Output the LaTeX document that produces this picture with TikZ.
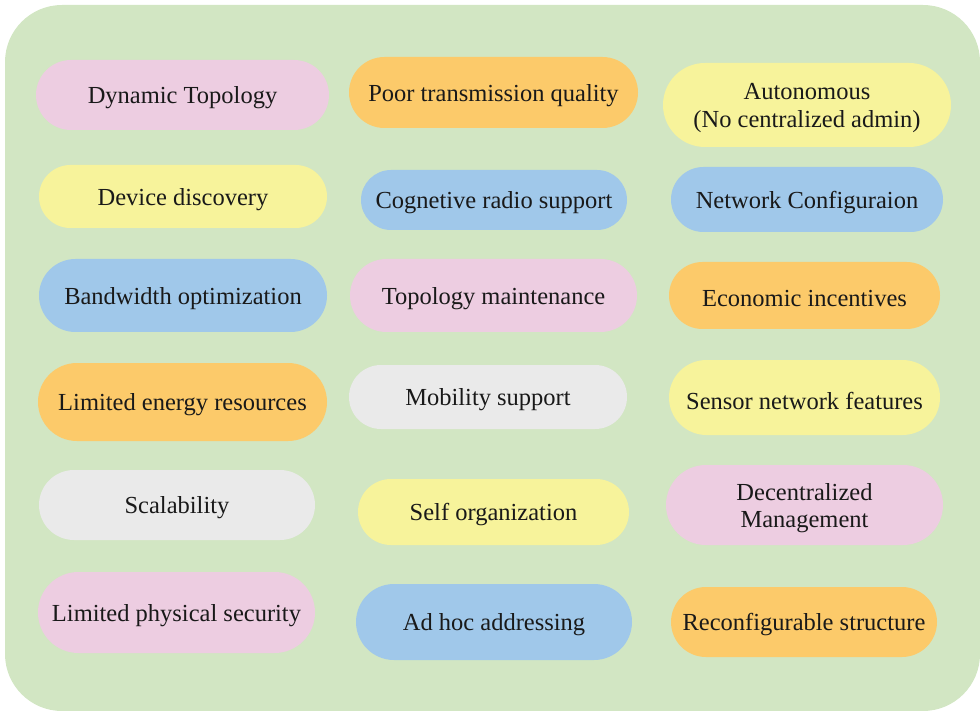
\documentclass[tikz,border=0pt]{standalone}
\usepackage{fontspec}
\setmainfont{Liberation Serif}
\usetikzlibrary{shapes.misc}
\definecolor{bggreen}{RGB}{210,230,195}
\definecolor{cpink}{RGB}{237,205,225}
\definecolor{cyellow}{RGB}{247,243,155}
\definecolor{corange}{RGB}{252,202,106}
\definecolor{cblue}{RGB}{160,200,234}
\definecolor{cgray}{RGB}{234,234,234}
\definecolor{txt}{RGB}{25,25,25}
\tikzset{
  pill/.style={rounded rectangle, inner sep=0pt, draw=none},
  pilltext/.style={inner sep=0pt, text=txt, align=center, yshift=-3pt,
    font=\fontsize{24.5}{27.5}\selectfont},
  bgbox/.style={fill=bggreen, draw=none, rounded corners=57pt}
}
\newcommand{\pillnode}[7]{%
  \node[pill, fill=#6, minimum width=#4pt, minimum height=#5pt,
    label={[pilltext]center:#7}] (#1) at (#2,#3) {};}
\begin{document}
\begin{tikzpicture}[x=1pt,y=-1pt]
\useasboundingbox (0,0) rectangle (980,711);
\path[bgbox] (5,5) rectangle (980,711);
% column 1
\pillnode{dyn}{182.5}{95}{293}{70}{cpink}{Dynamic Topology}
\pillnode{dev}{183}{196.5}{288}{63}{cyellow}{Device discovery}
\pillnode{bw}{183}{295.5}{288}{73}{cblue}{Bandwidth optimization}
\pillnode{energy}{182.5}{402}{289}{78}{corange}{Limited energy resources}
\pillnode{scal}{177}{505}{276}{70}{cgray}{Scalability}
\pillnode{phys}{176.5}{612.5}{277}{81}{cpink}{Limited physical security}
% column 2
\pillnode{poor}{493.5}{92.5}{289}{71}{corange}{Poor transmission quality}
\pillnode{cog}{494}{200}{266}{60}{cblue}{Cognetive radio support}
\pillnode{topm}{493.5}{295.5}{287}{73}{cpink}{Topology maintenance}
\pillnode{mob}{488}{397}{278}{64}{cgray}{Mobility support}
\pillnode{self}{493.5}{512}{271}{66}{cyellow}{Self organization}
\pillnode{adhoc}{494}{622}{276}{76}{cblue}{Ad hoc addressing}
% column 3
\pillnode{auto}{807}{105}{288}{84}{cyellow}{Autonomous\\(No centralized admin)}
\pillnode{netc}{807}{199.5}{272}{65}{cblue}{Network Configuraion}
\pillnode{econ}{804.5}{295.5}{271}{67}{corange}{Economic incentives}
\pillnode{sens}{804.5}{397.5}{271}{75}{cyellow}{Sensor network features}
\pillnode{dec}{804.5}{505}{277}{80}{cpink}{Decentralized\\Management}
\pillnode{reco}{804}{622}{266}{70}{corange}{Reconfigurable structure}
\end{tikzpicture}
\end{document}
